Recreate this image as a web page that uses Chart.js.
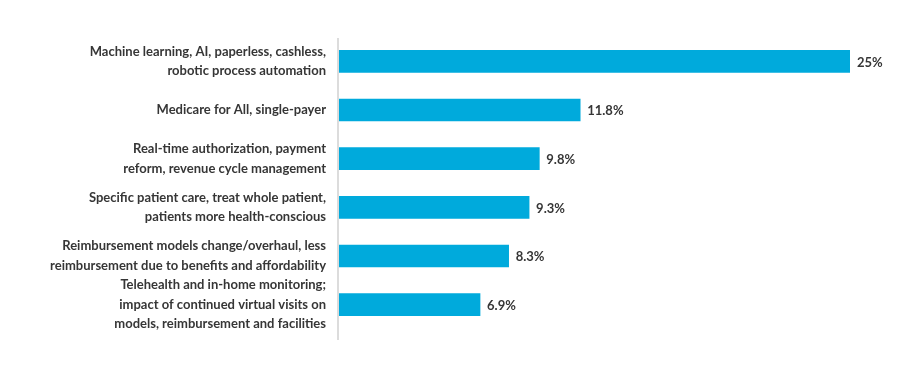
<!DOCTYPE html>
<html>
<head>
<meta charset="utf-8">
<script src="https://cdn.jsdelivr.net/npm/chart.js@4/dist/chart.umd.min.js"></script>
<style>
  html, body { margin: 0; padding: 0; background: #fff; }
</style>
</head>
<body>
<canvas id="chart" width="920" height="373"></canvas>
<script>
const categories = [
    ['Machine learning, AI, paperless, cashless,', 'robotic process automation'],
    ['Medicare for All, single-payer'],
    ['Real-time authorization, payment', 'reform, revenue cycle management'],
    ['Specific patient care, treat whole patient,', 'patients more health-conscious'],
    ['Reimbursement models change/overhaul, less', 'reimbursement due to benefits and affordability'],
    ['Telehealth and in-home monitoring;', 'impact of continued virtual visits on', 'models, reimbursement and facilities']
];
const values = [25, 11.8, 9.8, 9.3, 8.3, 6.9];
const valueLabels = ['25%', '11.8%', '9.8%', '9.3%', '8.3%', '6.9%'];

const textColor = '#363636';
const barColor = '#00aadc';
const axisColor = '#dcdcdc';

// value labels at the end of each bar
const valueLabelPlugin = {
    id: 'valueLabels',
    afterDatasetsDraw(chart) {
        const ctx = chart.ctx;
        const meta = chart.getDatasetMeta(0);
        ctx.save();
        ctx.font = 'bold 13px Lato';
        ctx.fillStyle = textColor;
        ctx.textAlign = 'left';
        ctx.textBaseline = 'middle';
        meta.data.forEach((bar, i) => {
            ctx.fillText(valueLabels[i], bar.x + 7, bar.y + 1);
        });
        ctx.restore();
    }
};

// vertical axis line, runs a bit past the last bar
const axisLinePlugin = {
    id: 'axisLine',
    beforeDatasetsDraw(chart) {
        const { ctx, chartArea } = chart;
        ctx.save();
        ctx.strokeStyle = axisColor;
        ctx.lineWidth = 2;
        ctx.beginPath();
        ctx.moveTo(chartArea.left - 1, chartArea.top + 1);
        ctx.lineTo(chartArea.left - 1, chartArea.bottom + 11);
        ctx.stroke();
        ctx.restore();
    }
};

const ctx = document.getElementById('chart').getContext('2d');
window.surveyChart = new Chart(ctx, {
    type: 'bar',
    data: {
        labels: categories,
        datasets: [{
            data: values,
            backgroundColor: barColor,
            borderWidth: 0,
            barThickness: 22
        }]
    },
    plugins: [valueLabelPlugin, axisLinePlugin],
    options: {
        indexAxis: 'y',
        responsive: false,
        animation: false,
        layout: { padding: { top: 37, bottom: 44, right: 70, left: 0 } },
        plugins: {
            legend: { display: false },
            tooltip: { enabled: false }
        },
        scales: {
            x: {
                display: false,
                min: 0,
                max: 25
            },
            y: {
                afterFit(scale) { scale.width = 339; },
                grid: { display: false },
                border: { display: false },
                ticks: {
                    autoSkip: false,
                    color: textColor,
                    padding: 5,
                    font: { family: 'Lato', size: 13, weight: 'bold', lineHeight: 1.5 }
                }
            }
        }
    }
});
</script>
</body>
</html>
